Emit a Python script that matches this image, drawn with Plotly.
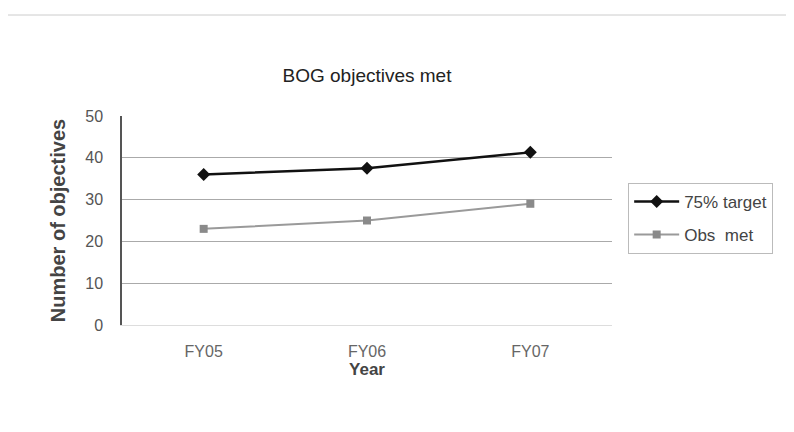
import plotly.graph_objects as go

years = ["FY05", "FY06", "FY07"]
target_75 = [36, 37.5, 41.3]
objs_met = [23, 25, 29]
y_ticks = [0, 10, 20, 30, 40, 50]

fig = go.Figure()
fig.add_trace(go.Scatter(
    x=years, y=target_75, name="75% target", mode="lines+markers", legendgroup="a",
    line=dict(color="#111111", width=2.5),
    marker=dict(symbol="diamond", size=10, color="#111111"),
))
fig.add_trace(go.Scatter(
    x=years, y=objs_met, name="Obs  met", mode="lines+markers", legendgroup="b",
    line=dict(color="#9a9a9a", width=2),
    marker=dict(symbol="square", size=8, color="#8a8a8a"),
))

L, T, R, B = 114, 108, 604, 317
fig.update_layout(
    width=794, height=432,
    paper_bgcolor="white", plot_bgcolor="white",
    margin=dict(l=L, r=794 - R, t=T, b=432 - B),
    font=dict(family="Liberation Sans, Arial, sans-serif", color="#333333"),
    title=dict(text="BOG objectives met", x=(L + R) / 2 / 794, xanchor="center",
               y=1 - 67 / 432, yanchor="middle",
               font=dict(size=19, color="#222222")),
    showlegend=True,
    legend=dict(x=1.033, y=0.68, xanchor="left", yanchor="top",
                bordercolor="#bbbbbb", borderwidth=1, bgcolor="white",
                itemwidth=45, tracegroupgap=8,
                font=dict(size=17, color="#444444")),
    shapes=[dict(type="line", xref="paper", yref="paper", x0=-0.25, x1=1.4,
                 y0=1 + (T - 7) / (B - T), y1=1 + (T - 7) / (B - T),
                 line=dict(color="#cccccc", width=1))],
)
fig.update_xaxes(
    type="category", range=[-0.5, 2.5], showgrid=False,
    showline=True, linecolor="#dddddd", linewidth=1, mirror=False,
    ticks="", tickfont=dict(size=16, color="#666666"), ticklabelstandoff=12,
    title=dict(text="<b>Year</b>", font=dict(size=17, color="#444444"), standoff=2),
)
fig.update_yaxes(
    range=[0, 50], tickvals=y_ticks, showgrid=True, gridcolor="#aaaaaa", gridwidth=1,
    showline=True, linecolor="#555555", linewidth=1.5, zeroline=False,
    ticks="", tickfont=dict(size=16, color="#555555"), ticklabelstandoff=14,
    title=dict(text="<b>Number of objectives</b>", font=dict(size=20, color="#444444"), standoff=14),
)

fig.write_html("out.html")
